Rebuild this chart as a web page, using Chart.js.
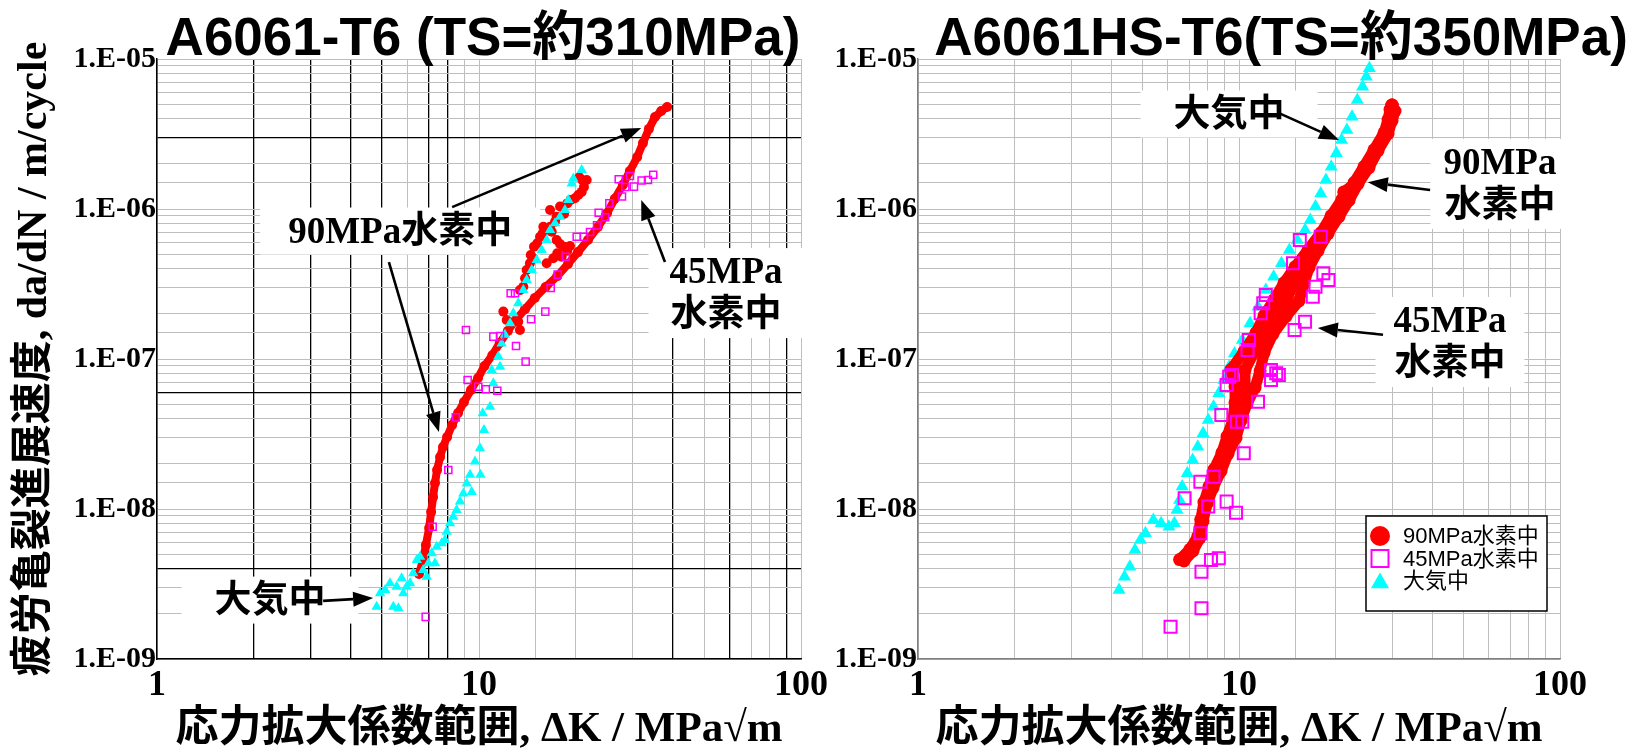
<!DOCTYPE html>
<html>
<head>
<meta charset="utf-8">
<script src="https://cdn.jsdelivr.net/npm/chart.js@4.4.1/dist/chart.umd.min.js"></script>
<style>
  html, body { margin: 0; padding: 0; background: #fff; }
  #wrap { position: relative; width: 1632px; height: 752px; overflow: hidden; }
  #leftBox { position: absolute; left: 0; top: 0; width: 860px; height: 752px; }
  #rightBox { position: absolute; left: 816px; top: 0; width: 816px; height: 752px; }
</style>
</head>
<body>
<div id="wrap">
  <div id="leftBox"><canvas id="leftChart"></canvas></div>
  <div id="rightBox"><canvas id="rightChart"></canvas></div>
</div>
<script>
// ---- data: [dK (MPa√m), da/dN (m/cycle)] ----
const seriesNames = ['90MPa水素中', '45MPa水素中', '大気中'];
const xTickValues = [1, 10, 100];
const xTickLabels = ['1', '10', '100'];
const yTickValues = [1e-9, 1e-8, 1e-7, 1e-6, 1e-5];
const yTickLabels = ['1.E-09', '1.E-08', '1.E-07', '1.E-06', '1.E-05'];

// A6061-T6
const t6H90 = [[6.51,3.69e-9],[6.70,4.57e-9],[6.84,5.75e-9],[7.00,7.47e-9],[7.10,9.55e-9],[7.20,1.20e-8],
  [7.30,1.49e-8],[7.41,1.82e-8],[7.57,2.22e-8],[7.73,2.59e-8],[7.96,3.02e-8],[8.25,3.63e-8],[8.61,4.37e-8],
  [8.98,5.16e-8],[9.44,6.21e-8],[9.93,7.47e-8],[10.4,8.98e-8],[11.0,1.06e-7],[11.6,1.28e-7],[12.3,1.54e-7],
  [13.0,1.82e-7],[13.9,2.15e-7],[14.9,2.55e-7],[16.1,3.02e-7],[17.5,3.57e-7],[18.9,4.30e-7],[20.3,5.16e-7],
  [21.8,6.21e-7],[23.4,7.59e-7],[25.0,9.40e-7],[26.4,1.17e-6],[28.0,1.45e-6],[29.4,1.79e-6],[31.0,2.22e-6],
  [32.3,2.75e-6],[33.7,3.42e-6],[35.2,4.10e-6],[36.8,4.50e-6],[38.4,4.79e-6]];
const t6H90Branch = [[11.90,2.07e-7],[12.19,1.82e-7],[13.24,1.77e-7],[13.40,1.56e-7],[13.40,2.88e-7],
  [13.73,3.03e-7],[13.9,3.45e-7],[14.06,3.92e-7],[14.39,4.35e-7],[14.48,4.93e-7],[14.75,4.69e-7],[14.82,5.61e-7],
  [15.17,5.90e-7],[15.47,6.53e-7],[15.77,6.89e-7],[15.84,7.62e-7],[16.62,7.62e-7],[16.82,7.06e-7],[16.62,9.85e-7],
  [17.22,8.23e-7],[17.42,8.89e-7],[17.85,1.04e-6],[18.37,9.27e-7],[18.80,1.09e-6],[19.27,1.15e-6],[19.86,1.18e-6],
  [20.34,1.24e-6],[20.84,1.30e-6],[21.18,1.40e-6],[20.99,1.55e-6],[20.49,1.63e-6],[21.60,1.56e-6],
  [16.22,4.35e-7],[17.01,4.69e-7],[17.50,5.07e-7],[17.85,5.85e-7],[18.37,5.61e-7],[18.80,5.27e-7],
  [18.06,4.81e-7],[19.17,5.67e-7],[17.42,6.21e-7]];
const t6H45 = [[6.83,1.91e-9],[7.18,7.62e-9],[8.03,1.82e-8],[8.47,4.08e-8],[9.22,7.24e-8],[9.95,6.53e-8],
  [10.5,6.28e-8],[11.4,6.15e-8],[13.96,9.60e-8],[9.11,1.56e-7],[11.08,1.41e-7],[11.62,1.42e-7],[12.54,2.74e-7],
  [12.94,2.74e-7],[13.03,1.22e-7],[14.51,1.84e-7],[16.07,2.07e-7],[16.70,2.97e-7],[17.56,3.65e-7],[18.59,4.81e-7],
  [20.11,6.53e-7],[21.18,6.53e-7],[22.12,7.03e-7],[23.26,7.78e-7],[23.53,9.44e-7],[24.66,8.81e-7],[25.40,1.09e-6],
  [27.80,1.21e-6],[28.47,1.40e-6],[27.16,1.58e-6],[29.44,1.66e-6],[30.29,1.41e-6],[31.99,1.55e-6],[33.48,1.56e-6],
  [34.76,1.69e-6]];
const t6Air = [[4.81,2.23e-9],[4.93,2.74e-9],[5.11,2.88e-9],[5.29,3.20e-9],[5.42,2.23e-9],[5.62,2.18e-9],
  [5.55,3.03e-9],[5.75,3.45e-9],[5.82,2.74e-9],[5.96,3.03e-9],[6.11,3.20e-9],[6.25,3.73e-9],[6.41,4.57e-9],
  [6.56,4.81e-9],[6.71,3.92e-9],[6.88,3.54e-9],[6.96,4.35e-9],[7.13,5.07e-9],[7.30,4.35e-9],[7.39,5.61e-9],
  [7.66,5.90e-9],[7.84,6.21e-9],[7.94,7.06e-9],[8.13,8.03e-9],[8.32,8.89e-9],[8.52,9.85e-9],[8.73,1.12e-8],
  [8.94,1.27e-8],[9.16,1.48e-8],[9.49,1.30e-8],[9.38,1.69e-8],[9.72,2.07e-8],[10.1,1.69e-8],[10.07,2.54e-8],
  [10.36,3.36e-8],[10.27,4.35e-8],[10.82,4.81e-8],[11.08,6.89e-8],[10.95,8.45e-8],[11.62,8.89e-8],[11.48,1.04e-7],
  [11.76,1.27e-7],[12.04,1.45e-7],[12.49,1.73e-7],[12.78,2.02e-7],[13.24,2.35e-7],[13.73,2.88e-7],[14.06,3.36e-7],
  [14.58,3.92e-7],[15.11,4.57e-7],[15.65,5.33e-7],[16.22,6.21e-7],[16.62,7.24e-7],[17.22,8.03e-7],[17.85,8.89e-7],
  [18.49,9.85e-7],[18.94,1.15e-6],[19.41,1.48e-6],[19.63,1.60e-6],[20.84,1.82e-6]];

// A6061HS-T6 (90MPa band read as its left edge, middle and right edge)
const hsH90Left = [[6.53,4.6e-9],[7.04,5.4e-9],[7.45,6.6e-9],[7.60,8.5e-9],[7.78,1.11e-8],[8.06,1.41e-8],
  [8.36,1.84e-8],[8.85,2.38e-8],[9.18,3.05e-8],[9.58,3.95e-8],[9.72,5.12e-8],[9.72,6.55e-8],[9.44,8.5e-8],
  [10.36,1.12e-7],[11.30,1.50e-7],[11.97,1.95e-7],[12.85,2.48e-7],[13.81,3.22e-7],[14.95,4.12e-7],[16.41,5.35e-7],
  [18.01,6.95e-7],[19.35,9.0e-7],[20.94,1.16e-6],[22.82,1.50e-6],[24.52,1.92e-6],[26.33,2.48e-6],[28.30,3.22e-6],
  [29.13,3.94e-6],[29.54,4.6e-6],[29.97,4.93e-6]];
const hsH90Mid = [[6.65,4.57e-9],[7.11,5.33e-9],[7.50,6.51e-9],[7.67,8.45e-9],[7.86,1.10e-8],[8.18,1.40e-8],
  [8.57,1.82e-8],[9.04,2.36e-8],[9.48,3.02e-8],[9.86,3.92e-8],[10.14,5.09e-8],[10.44,6.51e-8],[10.44,8.45e-8],
  [11.14,1.11e-7],[12.01,1.49e-7],[12.95,1.94e-7],[14.06,2.47e-7],[14.84,3.21e-7],[15.72,4.10e-7],[17.0,5.33e-7],
  [18.47,6.92e-7],[19.91,8.98e-7],[21.47,1.15e-6],[21.2,1.30e-6],[23.14,1.49e-6],[24.96,1.91e-6],[26.72,2.47e-6],
  [28.71,3.21e-6],[29.54,3.92e-6],[30.19,4.57e-6],[29.97,4.93e-6]];
const hsH90Right = [[6.74,4.5e-9],[7.19,5.25e-9],[7.55,6.4e-9],[7.72,8.3e-9],[7.95,1.08e-8],[8.30,1.38e-8],
  [8.79,1.79e-8],[9.24,2.33e-8],[9.79,2.98e-8],[10.14,3.88e-8],[10.59,5.03e-8],[11.22,6.45e-8],[11.63,8.35e-8],
  [11.97,1.10e-7],[12.76,1.47e-7],[14.01,1.92e-7],[15.38,2.44e-7],[15.94,3.18e-7],[16.52,4.06e-7],[17.63,5.28e-7],
  [18.94,6.85e-7],[20.49,8.9e-7],[22.02,1.14e-6],[23.48,1.47e-6],[25.41,1.89e-6],[27.10,2.45e-6],[29.13,3.18e-6],
  [29.97,3.88e-6],[30.62,4.5e-6],[29.97,4.93e-6]];
const hsH45 = [[15.47,6.21e-7],[17.97,6.53e-7],[14.73,4.35e-7],[18.31,3.73e-7],[19.00,3.36e-7],[17.31,3.03e-7],
  [16.98,2.60e-7],[12.12,2.67e-7],[11.90,2.35e-7],[11.68,2.02e-7],[16.06,1.77e-7],[14.90,1.56e-7],[10.74,1.34e-7],
  [10.63,1.15e-7],[12.58,8.45e-8],[13.06,8.03e-8],[9.50,7.82e-8],[9.32,7.62e-8],[12.58,7.24e-8],[13.31,7.82e-8],
  [11.46,5.19e-8],[9.15,6.71e-8],[8.81,4.24e-8],[9.86,3.82e-8],[10.24,3.82e-8],[10.35,2.35e-8],[7.58,1.52e-8],
  [8.33,1.64e-8],[6.77,1.18e-8],[8.02,1.04e-8],[9.15,1.12e-8],[9.79,9.44e-9],[7.58,6.89e-9],[8.18,4.57e-9],
  [8.65,4.69e-9],[7.64,3.82e-9],[7.64,2.18e-9],[6.12,1.64e-9]];
const hsAir = [[4.23,2.88e-9],[4.40,3.54e-9],[4.57,4.12e-9],[4.74,5.33e-9],[4.93,6.21e-9],[5.11,6.89e-9],
  [5.41,8.45e-9],[5.72,8.03e-9],[6.05,7.62e-9],[6.29,8.03e-9],[6.41,9.85e-9],[6.53,1.15e-8],[6.65,1.41e-8],
  [6.90,1.73e-8],[7.17,2.12e-8],[7.44,2.60e-8],[7.73,3.20e-8],[8.02,3.92e-8],[8.33,4.81e-8],[8.65,5.90e-8],
  [8.97,7.24e-8],[9.32,8.89e-8],[9.68,1.09e-7],[10.24,1.34e-7],[10.83,1.73e-7],[11.46,2.23e-7],[12.12,2.88e-7],
  [12.82,3.54e-7],[13.56,4.35e-7],[14.35,5.33e-7],[15.18,6.21e-7],[16.06,7.24e-7],[16.67,8.45e-7],[17.31,1.04e-6],
  [17.97,1.27e-6],[18.65,1.56e-6],[19.38,1.91e-6],[20.11,2.35e-6],[20.87,2.88e-6],[21.68,3.36e-6],[22.50,4.12e-6],
  [23.36,5.33e-6],[24.27,6.53e-6],[24.91,7.62e-6],[25.47,8.67e-6]];

// ---- styling ----
const RED = '#FF0000', MAGENTA = '#FF00FF', CYAN = '#00FFFF';
const serifCJK = '"Liberation Serif", "Noto Sans CJK JP", serif';
const sansCJK = '"Liberation Sans", "Noto Sans CJK JP", sans-serif';
const t6BlackK = [2, 3, 4, 5, 7, 8, 40, 60, 90];
const t6BlackRate = [3e-6, 6e-8, 4e-9];

function near(v, list) {
  return list.findIndex(b => Math.abs(v / b - 1) < 1e-6);
}
function toXY(pairs) {
  return pairs.map(p => ({x: p[0], y: p[1]}));
}

function makeScales(left) {
  const gridGray = '#BEBEBE';
  return {
    x: {
      type: 'logarithmic', min: 1, max: 100,
      border: {color: left ? '#000' : '#808080', width: 1.5},
      grid: {
        drawTicks: false,
        color: c => (left && near(c.tick.value, t6BlackK) >= 0) ? '#000' : gridGray,
        lineWidth: c => (left && near(c.tick.value, t6BlackK) >= 0) ? 1.3 : 1
      },
      ticks: {
        autoSkip: false, maxRotation: 0, padding: 5, color: '#000',
        font: {family: '"Liberation Serif", serif', size: 36, weight: 'bold'},
        callback: v => { const i = near(v, xTickValues); return i >= 0 ? xTickLabels[i] : ''; }
      },
      title: {
        display: true, text: '応力拡大係数範囲, ΔK / MPa√m', color: '#000',
        font: {family: serifCJK, size: 43, weight: 'bold', lineHeight: 1},
        padding: {top: 0, bottom: 1}
      },
      afterFit: s => { s.height = 93; }
    },
    y: {
      type: 'logarithmic', min: 1e-9, max: 1e-5,
      border: {color: left ? '#000' : '#808080', width: 1.5},
      grid: {
        drawTicks: false,
        color: c => (left && near(c.tick.value, t6BlackRate) >= 0) ? '#000' : gridGray,
        lineWidth: c => (left && near(c.tick.value, t6BlackRate) >= 0) ? 1.3 : 1
      },
      ticks: {
        autoSkip: false, padding: 1, color: '#000',
        font: {family: '"Liberation Serif", serif', size: 30, weight: 'bold'},
        callback: v => { const i = near(v, yTickValues); return i >= 0 ? yTickLabels[i] : ''; }
      },
      title: {
        display: left, text: '疲労亀裂進展速度, da/dN / m/cycle', color: '#000',
        font: {family: serifCJK, size: 42, weight: 'bold', lineHeight: 1},
        padding: {top: 14, bottom: 0}
      },
      afterFit: s => { s.width = left ? 157 : 102; }
    }
  };
}

function h90Style(r) {
  return {pointStyle: 'circle', pointRadius: r, pointHoverRadius: r,
    pointBackgroundColor: RED, pointBorderColor: RED, pointBorderWidth: 0};
}
function h90Band(pairs, r, w) {
  return Object.assign({label: seriesNames[0], data: toXY(pairs), showLine: true, borderColor: RED,
    borderWidth: w, borderCapStyle: 'round', borderJoinStyle: 'round'}, h90Style(r));
}
function h45Style(r, w) {
  return {pointStyle: 'rect', pointRadius: r, pointHoverRadius: r,
    pointBackgroundColor: 'rgba(0,0,0,0)', pointBorderColor: MAGENTA, pointBorderWidth: w};
}
function airStyle(r) {
  return {pointStyle: 'triangle', pointRadius: r, pointHoverRadius: r,
    pointBackgroundColor: CYAN, pointBorderColor: CYAN, pointBorderWidth: 0};
}

// panel title drawn over the plot
function panelTitle(text, dx) {
  return {
    id: 'panelTitle',
    afterDraw(chart) {
      const ctx = chart.ctx, a = chart.chartArea;
      ctx.save();
      ctx.font = 'bold 53px ' + sansCJK;
      ctx.fillStyle = '#000';
      ctx.textAlign = 'center';
      ctx.textBaseline = 'alphabetic';
      ctx.fillText(text, (a.left + a.right) / 2 + dx, 55);
      ctx.restore();
    }
  };
}

// boxed labels with arrows, anchored in data units
function callouts(labels, arrows) {
  const font = 'bold 37px ' + serifCJK;
  const lineH = 43;
  const boxes = chart => labels.map(l => {
    const ctx = chart.ctx;
    ctx.font = font;
    const cx = chart.scales.x.getPixelForValue(l.at[0]);
    const cy = chart.scales.y.getPixelForValue(l.at[1]);
    const w = Math.max(...l.lines.map(t => ctx.measureText(t).width)) + 2 * l.padX;
    const h = l.lines.length * lineH + 4;
    return {l, cx, cy, w, h};
  });
  return {
    id: 'callouts',
    beforeDatasetsDraw(chart) {
      const ctx = chart.ctx;
      ctx.save();
      boxes(chart).forEach(b => {
        ctx.fillStyle = '#fff';
        ctx.fillRect(b.cx - b.w / 2, b.cy - b.h / 2, b.w, b.h);
      });
      ctx.restore();
    },
    afterDatasetsDraw(chart) {
      const ctx = chart.ctx, xs = chart.scales.x, ys = chart.scales.y;
      ctx.save();
      ctx.fillStyle = '#000';
      ctx.strokeStyle = '#000';
      ctx.font = font;
      ctx.textAlign = 'center';
      ctx.textBaseline = 'middle';
      boxes(chart).forEach(b => {
        const n = b.l.lines.length;
        b.l.lines.forEach((t, i) => {
          ctx.fillText(t, b.cx, b.cy + (i - (n - 1) / 2) * lineH + 2);
        });
      });
      arrows.forEach(a => {
        const x0 = xs.getPixelForValue(a.from[0]), y0 = ys.getPixelForValue(a.from[1]);
        const x1 = xs.getPixelForValue(a.to[0]), y1 = ys.getPixelForValue(a.to[1]);
        const ang = Math.atan2(y1 - y0, x1 - x0);
        const len = 20, half = 7.5;
        const bx = x1 - Math.cos(ang) * len, by = y1 - Math.sin(ang) * len;
        ctx.lineWidth = 2.6;
        ctx.beginPath();
        ctx.moveTo(x0, y0);
        ctx.lineTo(bx, by);
        ctx.stroke();
        ctx.beginPath();
        ctx.moveTo(x1, y1);
        ctx.lineTo(bx + Math.sin(ang) * half, by - Math.cos(ang) * half);
        ctx.lineTo(bx - Math.sin(ang) * half, by + Math.cos(ang) * half);
        ctx.closePath();
        ctx.fill();
      });
      ctx.restore();
    }
  };
}

// legend box inside the right plot
const legendBox = {
  id: 'legendBox',
  afterDraw(chart) {
    const ctx = chart.ctx, a = chart.chartArea;
    const right = a.right - 13, bottom = a.bottom - 48;
    const w = 181, h = 95, left = right - w, top = bottom - h;
    ctx.save();
    ctx.fillStyle = '#fff';
    ctx.fillRect(left, top, w, h);
    ctx.strokeStyle = '#000';
    ctx.lineWidth = 1.5;
    ctx.strokeRect(left, top, w, h);
    const marks = [
      {style: 'circle', r: 10, fill: RED, stroke: RED, bw: 0},
      {style: 'rect', r: 12, fill: 'rgba(0,0,0,0)', stroke: MAGENTA, bw: 2},
      {style: 'triangle', r: 10.5, fill: CYAN, stroke: CYAN, bw: 0}
    ];
    ctx.font = '22px ' + sansCJK;
    ctx.textAlign = 'left';
    ctx.textBaseline = 'middle';
    seriesNames.forEach((name, i) => {
      const y = top + 20 + i * 22.5;
      const m = marks[i];
      ctx.fillStyle = m.fill;
      ctx.strokeStyle = m.stroke;
      ctx.lineWidth = m.bw;
      Chart.helpers.drawPoint(ctx, {pointStyle: m.style, radius: m.r, rotation: 0, borderWidth: m.bw}, left + 14, y + (i === 2 ? 2 : 0));
      ctx.fillStyle = '#000';
      ctx.fillText(name, left + 37, y + 1);
    });
    ctx.restore();
  }
};

new Chart(document.getElementById('leftChart'), {
  type: 'scatter',
  data: {
    datasets: [
      Object.assign({label: seriesNames[1], data: toXY(t6H45)}, h45Style(5, 1.5)),
      Object.assign({label: seriesNames[2], data: toXY(t6Air)}, airStyle(6)),
      Object.assign({label: seriesNames[0], data: toXY(t6H90Branch)}, h90Style(5)),
      h90Band(t6H90, 5, 8)
    ]
  },
  options: {
    responsive: true, maintainAspectRatio: false, animation: false,
    layout: {padding: {top: 59, right: 59, left: 0, bottom: 0}},
    plugins: {legend: {display: false}, tooltip: {enabled: false}},
    scales: makeScales(true)
  },
  plugins: [
    panelTitle('A6061-T6 (TS=約310MPa)', 4),
    callouts(
      [{lines: ['90MPa水素中'], at: [5.69, 7.13e-7], padX: 28},
       {lines: ['45MPa', '水素中'], at: [58.5, 2.75e-7], padX: 21},
       {lines: ['大気中'], at: [2.244, 2.47e-9], padX: 33}],
      [{from: [8.25, 1.03e-6], to: [31.9, 3.47e-6]},
       {from: [5.25, 4.43e-7], to: [7.51, 3.26e-8]},
       {from: [37.8, 4.43e-7], to: [31.9, 1.15e-6]},
       {from: [3.28, 2.44e-9], to: [4.69, 2.55e-9]}])
  ]
});

new Chart(document.getElementById('rightChart'), {
  type: 'scatter',
  data: {
    datasets: [
      Object.assign({label: seriesNames[1], data: toXY(hsH45)}, h45Style(8.5, 2)),
      h90Band(hsH90Left, 6.5, 11),
      h90Band(hsH90Mid, 6.5, 11),
      h90Band(hsH90Right, 6.5, 11),
      Object.assign({label: seriesNames[2], data: toXY(hsAir)}, airStyle(7.5))
    ]
  },
  options: {
    responsive: true, maintainAspectRatio: false, animation: false,
    layout: {padding: {top: 59, right: 72, left: 0, bottom: 0}},
    plugins: {legend: {display: false}, tooltip: {enabled: false}},
    scales: makeScales(false)
  },
  plugins: [
    panelTitle('A6061HS-T6(TS=約350MPa)', 42),
    callouts(
      [{lines: ['大気中'], at: [9.31, 4.30e-6], padX: 33},
       {lines: ['90MPa', '水素中'], at: [65.0, 1.47e-6], padX: 13},
       {lines: ['45MPa', '水素中'], at: [45.4, 1.30e-7], padX: 18}],
      [{from: [13.32, 4.36e-6], to: [20.49, 2.88e-6]},
       {from: [39.4, 1.34e-6], to: [25.2, 1.51e-6]},
       {from: [28.1, 1.45e-7], to: [17.6, 1.61e-7]}]),
    legendBox
  ]
});
</script>
</body>
</html>
